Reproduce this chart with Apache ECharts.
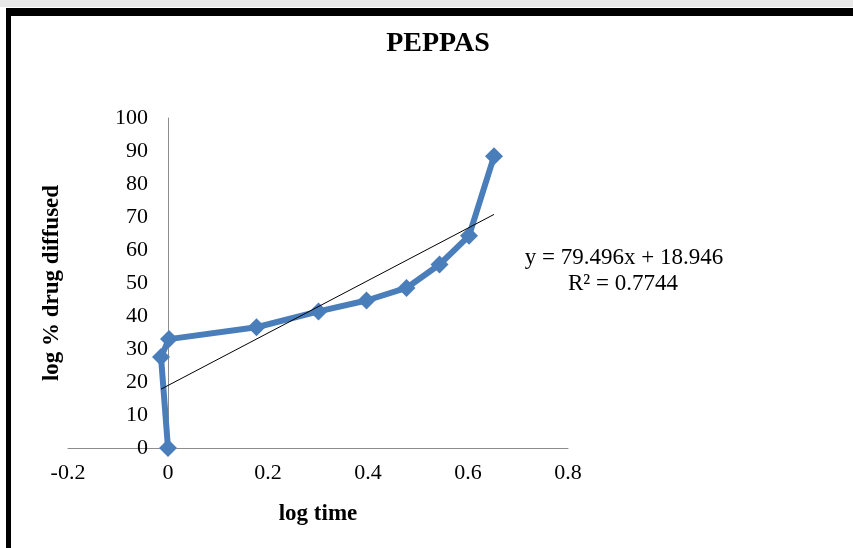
<!DOCTYPE html>
<html>
<head>
<meta charset="utf-8">
<script src="https://cdn.jsdelivr.net/npm/echarts@6/dist/echarts.min.js"></script>
<style>
html,body{margin:0;padding:0;background:#fff;}
#chart{width:853px;height:548px;}
</style>
</head>
<body>
<div id="chart"></div>
<script>
// Data
var logTime = [0, -0.014, 0.002, 0.177, 0.301, 0.397, 0.477, 0.543, 0.602, 0.652];
var logDrug = [0, 27.6, 33.0, 36.6, 41.4, 44.7, 48.5, 55.6, 64.3, 88.4];
var trendSlope = 79.496;
var trendIntercept = 18.946;
var equationText = 'y = 79.496x + 18.946';
var r2Text = 'R\u00b2 = 0.7744';
var titleText = 'PEPPAS';
var xName = 'log time';
var yName = 'log % drug diffused';

var seriesData = logTime.map(function (x, i) { return [x, logDrug[i]]; });
var xMin = Math.min.apply(null, logTime);
var xMax = Math.max.apply(null, logTime);
var trendData = [[xMin, trendSlope * xMin + trendIntercept], [xMax, trendSlope * xMax + trendIntercept]];

var font = '"Liberation Serif", "Times New Roman", serif';
var chart = echarts.init(document.getElementById('chart'), null, {renderer: 'canvas'});
chart.setOption({
  animation: false,
  backgroundColor: '#ffffff',
  grid: {left: 68, right: 285, top: 118, bottom: 100, containLabel: false, outerBoundsMode: 'none'},
  xAxis: {
    type: 'value', min: -0.2, max: 0.8, interval: 0.2,
    name: xName, nameLocation: 'middle', nameGap: 55,
    nameTextStyle: {fontFamily: font, fontWeight: 'bold', fontSize: 23, color: '#000'},
    axisLine: {show: true, onZero: true, lineStyle: {color: '#8c8c8c', width: 1}},
    axisTick: {show: false},
    splitLine: {show: false},
    axisLabel: {fontFamily: font, fontSize: 22, color: '#000', margin: 14,
      formatter: function (v) { return String(Math.round(v * 10) / 10); }}
  },
  yAxis: {
    type: 'value', min: 0, max: 100, interval: 10,
    name: yName, nameLocation: 'middle', nameGap: 4, nameRotate: 90,
    nameTextStyle: {fontFamily: font, fontWeight: 'bold', fontSize: 23, color: '#000'},
    axisLine: {show: true, onZero: true, lineStyle: {color: '#8c8c8c', width: 1}},
    axisTick: {show: false},
    splitLine: {show: false},
    axisLabel: {fontFamily: font, fontSize: 22, color: '#000', margin: -80}
  },
  series: [
    {
      type: 'line', data: seriesData, symbol: 'diamond', symbolSize: 18,
      lineStyle: {color: '#4A7EBB', width: 6},
      itemStyle: {color: '#4A7EBB'},
      z: 3
    },
    {
      type: 'line', data: trendData, symbol: 'none',
      lineStyle: {color: '#000', width: 1},
      z: 4
    }
  ],
  graphic: [
    {type: 'rect', shape: {x: 0, y: 0, width: 853, height: 7}, style: {fill: '#e8e8e8'}, z: 100},
    {type: 'rect', shape: {x: 6, y: 8, width: 847, height: 8}, style: {fill: '#000'}, z: 100},
    {type: 'rect', shape: {x: 6, y: 8, width: 5, height: 540}, style: {fill: '#000'}, z: 100},
    {type: 'text', x: 438, y: 44, style: {text: titleText, fontFamily: font, fontWeight: 'bold', fontSize: 28, fill: '#000', textAlign: 'center', textVerticalAlign: 'middle'}, z: 100},
    {type: 'text', x: 624, y: 258, style: {text: equationText, fontFamily: font, fontSize: 23, fill: '#000', textAlign: 'center', textVerticalAlign: 'middle'}, z: 100},
    {type: 'text', x: 623, y: 284, style: {text: r2Text, fontFamily: font, fontSize: 23, fill: '#000', textAlign: 'center', textVerticalAlign: 'middle'}, z: 100}
  ]
});
</script>
</body>
</html>
